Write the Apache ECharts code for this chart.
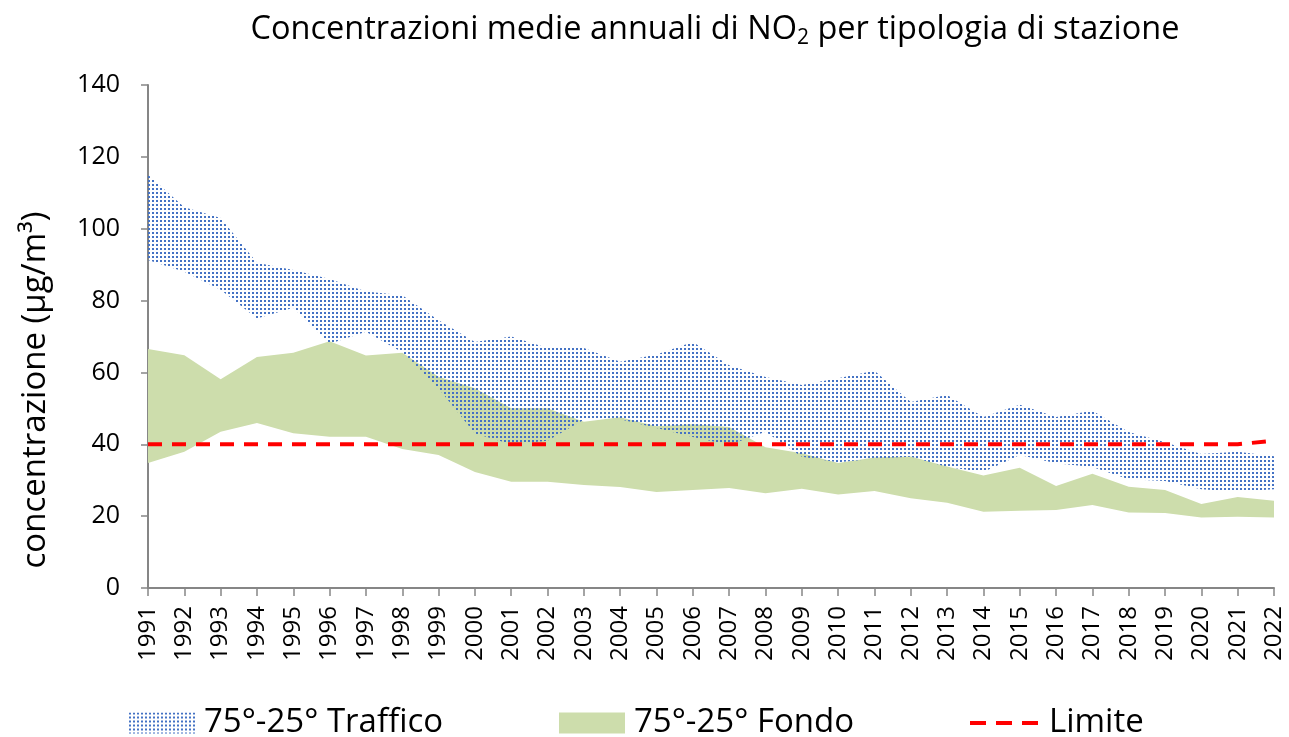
<!DOCTYPE html>
<html><head><meta charset="utf-8">
<script src="https://cdn.jsdelivr.net/npm/echarts@6/dist/echarts.min.js"></script>
<style>html,body{margin:0;padding:0;background:#fff}#c{width:1289px;height:737px}</style>
</head><body><div id="c"></div>
<script>
const years = ['1991','1992','1993','1994','1995','1996','1997','1998','1999','2000','2001','2002','2003','2004','2005','2006','2007','2008','2009','2010','2011','2012','2013','2014','2015','2016','2017','2018','2019','2020','2021','2022'];
const trafficoHigh = [115,106,103,90.5,88.5,86,82.5,81.5,74.5,68.5,70,66.8,66.8,63,65,68.5,62,58.7,56.5,58.4,60.5,51.8,53.7,47.6,51,47.6,49.3,43.4,40.6,37.3,37.9,36.7];
const trafficoLow = [91.3,88,83,75,78,68,71.3,65.6,55.5,43,40,41,46.8,47,44.5,42,39.8,43.5,36.5,35,36,36.5,33.7,32.3,37,34.7,33.7,30.3,29.8,27.5,26.8,27.5];
const fondoHigh = [66.5,64.8,58.1,64.3,65.5,68.7,64.7,65.5,58.8,55.6,50,50,46.3,47.5,45,45.6,44.8,39.2,37.5,34.8,36.3,36.6,33.8,31.3,33.5,28.4,31.8,28.2,27.3,23.4,25.3,24.3];
const fondoLow = [34.8,37.9,43.5,45.9,43.1,42.1,42.1,38.7,37,32.3,29.6,29.6,28.7,28.1,26.7,27.3,27.8,26.4,27.6,26,27,25,23.7,21.2,21.5,21.7,23.1,21,20.9,19.6,19.8,19.6];
const limite = [40,40,40,40,40,40,40,40,40,40,40,40,40,40,40,40,40,40,40,40,40,40,40,40,40,40,40,40,40,40,40,41];
const yTicks = {min:0, max:140, interval:20};

const FONT = 'Open Sans';
const cv = document.createElement('canvas');
cv.width = 4; cv.height = 4;
const cx = cv.getContext('2d');
cx.fillStyle = '#4472C4';
cx.fillRect(0,0,2,2);
const dots = {image: cv, repeat: 'repeat'};
const green = '#CDDDAC';

const fondoBand = fondoHigh.map((v,i)=> +(v - fondoLow[i]).toFixed(2));
const trafficoBand = trafficoHigh.map((v,i)=> +(v - trafficoLow[i]).toFixed(2));

const chart = echarts.init(document.getElementById('c'), null, {renderer:'canvas'});
const hidden = {type:'line', symbol:'none', lineStyle:{opacity:0, width:0}, silent:true};
const legText = {fontFamily:FONT, fontSize:33, lineHeight:34, color:'#000', padding:[0,0,0,4]};
const legBase = {top:706, padding:0, itemHeight:21, textStyle:legText};
chart.setOption({
  animation:false,
  backgroundColor:'#fff',
  title:{
    text:'Concentrazioni medie annuali di NO{sub|2} per tipologia di stazione',
    left:710, top:5, textAlign:'center',
    textStyle:{fontFamily:FONT, fontSize:32.5, fontWeight:'normal', color:'#000',
      rich:{sub:{fontFamily:FONT, fontSize:21, color:'#000', padding:[18,0,0,0]}}}
  },
  grid:{left:148, right:15, top:85, bottom:149},
  legend:[
    Object.assign({left:129, itemWidth:66,
     data:[{name:'75°-25° Traffico', icon:'rect', itemStyle:{color:dots}}]}, legBase),
    Object.assign({left:559, itemWidth:66,
     data:[{name:'75°-25° Fondo', icon:'rect', itemStyle:{color:green}}]}, legBase),
    Object.assign({left:968, itemWidth:70,
     itemStyle:{color:'rgba(0,0,0,0)', borderWidth:0},
     lineStyle:{color:'#FF0000', width:4, type:[16,10]},
     data:[{name:'Limite'}]}, legBase)
  ],
  xAxis:{
    type:'category', data:years, boundaryGap:false,
    axisLine:{lineStyle:{color:'#868686', width:2}},
    axisTick:{show:true, length:8, interval:0, lineStyle:{color:'#868686', width:1.5}},
    axisLabel:{interval:0, rotate:90, margin:18, fontFamily:FONT, fontSize:24, color:'#000'}
  },
  yAxis:{
    type:'value', min:yTicks.min, max:yTicks.max, interval:yTicks.interval,
    axisLine:{show:true, lineStyle:{color:'#868686', width:2}},
    axisTick:{show:true, length:7, lineStyle:{color:'#868686', width:1.5}},
    splitLine:{show:false},
    axisLabel:{margin:28, fontFamily:FONT, fontSize:25, color:'#000'}
  },
  graphic:[{
    type:'text', x:36, y:390, rotation:Math.PI/2,
    style:{text:'concentrazione (µg/m³)', fontFamily:FONT, fontSize:33, fill:'#000', textAlign:'center', textVerticalAlign:'middle'}
  }],
  series:[
    Object.assign({name:'fBase', stack:'f', data:fondoLow}, hidden),
    {name:'75°-25° Fondo', type:'line', stack:'f', data:fondoBand, symbol:'none',
     lineStyle:{width:0, opacity:0}, areaStyle:{color:green, opacity:1}},
    Object.assign({name:'tBase', stack:'t', data:trafficoLow}, hidden),
    {name:'75°-25° Traffico', type:'line', stack:'t', data:trafficoBand, symbol:'none',
     lineStyle:{width:0, opacity:0}, areaStyle:{color:dots, opacity:1}},
    {name:'Limite', type:'line', data:limite, symbol:'none', z:5,
     lineStyle:{color:'#FF0000', width:4, type:[14,10]}, itemStyle:{color:'#FF0000'}}
  ]
});
</script></body></html>
